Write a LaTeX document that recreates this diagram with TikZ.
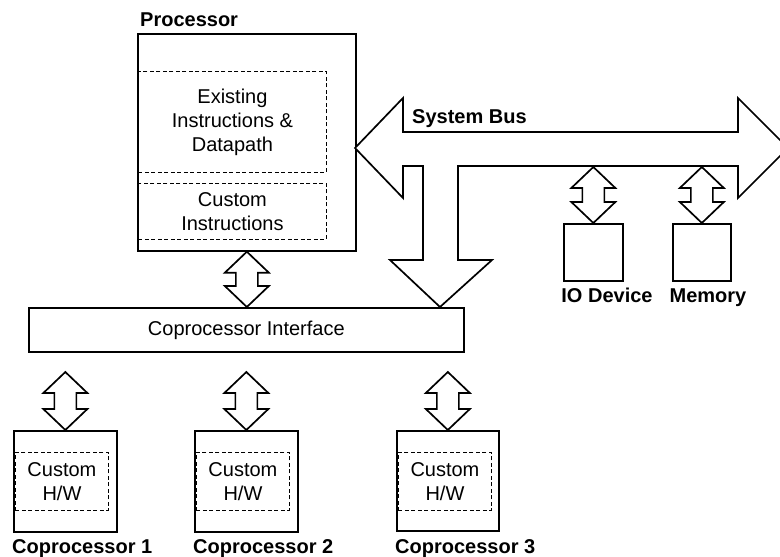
\documentclass[tikz,border=0pt]{standalone}
\usepackage{fontspec}
\setmainfont{Liberation Sans}
\usetikzlibrary{calc}

% vertical two-headed block arrow from #1 (top tip) to #2 (bottom tip)
\newcommand\blockpair[2]{%
  \draw[blk] let \p1=(#1), \p2=(#2) in
    (\x1,\y1) -- (\x1+22pt,\y1-21pt) -- (\x1+11pt,\y1-21pt)
    -- (\x1+11pt,\y2+21pt) -- (\x1+22pt,\y2+21pt) -- (\x1,\y2)
    -- (\x1-22pt,\y2+21pt) -- (\x1-11pt,\y2+21pt)
    -- (\x1-11pt,\y1-21pt) -- (\x1-22pt,\y1-21pt) -- cycle;}

\begin{document}
\begin{tikzpicture}[x=1pt,y=-1pt,
  box/.style={draw, line width=1.7pt, inner sep=0pt, anchor=north west},
  dbox/.style={draw, line width=0.9pt, dash pattern=on 4pt off 2.5pt,
    inner sep=0pt, anchor=north west, align=center,
    font=\fontsize{20}{24}\selectfont},
  txt/.style={font=\fontsize{20}{24}\selectfont},
  lbl/.style={font=\bfseries\fontsize{20}{24}\selectfont, inner sep=0pt, anchor=base west},
  blk/.style={draw, line width=1.7pt, line join=miter, fill=white}]

\useasboundingbox (0,0) rectangle (780,557);
\clip (0,0) rectangle (780,557);

% processor
\node[box, minimum width=218, minimum height=217] (proc) at (137,33) {};
\node[dbox, minimum width=188, minimum height=101] (dp) at (138,71)
  {Existing\\Instructions \&\\Datapath};
\node[dbox, minimum width=188, minimum height=56] (ci) at (138,183)
  {Custom\\Instructions};
\node[lbl] (proclbl) at (140,26) {Processor};

% coprocessor interface
\node[box, minimum width=435, minimum height=44, txt] (iface) at (28,307)
  {Coprocessor Interface};

% peripherals on the bus
\node[box, minimum width=59, minimum height=57] (io) at (563,223) {};
\node[box, minimum width=58, minimum height=57] (mem) at (672,223) {};
\node[lbl, anchor=base] (iolbl) at (607,302) {IO Device};
\node[lbl, anchor=base] (memlbl) at (708,302) {Memory};

% coprocessors
\node[box, minimum width=103, minimum height=101] (cp1) at (13,430) {};
\node[dbox, minimum width=93, minimum height=58] (hw1) at (15,452) {Custom\\H/W};
\node[lbl] (cp1lbl) at (12,553) {Coprocessor 1};

\node[box, minimum width=103, minimum height=101] (cp2) at (194,430) {};
\node[dbox, minimum width=93, minimum height=58] (hw2) at (196,452) {Custom\\H/W};
\node[lbl] (cp2lbl) at (193,553) {Coprocessor 2};

\node[box, minimum width=102, minimum height=100] (cp3) at (396,430) {};
\node[dbox, minimum width=93, minimum height=58] (hw3) at (398,452) {Custom\\H/W};
\node[lbl] (cp3lbl) at (395,553) {Coprocessor 3};

% system bus with its branch down to the interface
\coordinate (busL) at (355,148);
\coordinate (busdrop) at (440,307);
\draw[blk] (busL) -- (403,98) -- (403,132) -- (738,132) -- (738,98)
  -- (788,148) -- (738,198) -- (738,166) -- (458,166) -- (458,260)
  -- (492,260) -- (busdrop) -- (390,260) -- (423,260) -- (423,166)
  -- (403,166) -- (403,198) -- cycle;
\node[lbl] (buslbl) at (412,123) {System Bus};

% taps on the bus
\coordinate (busbot) at (0,167);
\coordinate (iotap) at (io.north |- busbot);
\coordinate (memtap) at (mem.north |- busbot);
\blockpair{iotap}{io.north}
\blockpair{memtap}{mem.north}

% processor to interface
\blockpair{proc.south}{iface.north}

% interface to coprocessors
\coordinate (t1) at ($(cp1.north)+(0,-58)$);
\coordinate (t2) at ($(cp2.north)+(0,-58)$);
\coordinate (t3) at ($(cp3.north)+(0,-58)$);
\blockpair{t1}{cp1.north}
\blockpair{t2}{cp2.north}
\blockpair{t3}{cp3.north}

\end{tikzpicture}
\end{document}
